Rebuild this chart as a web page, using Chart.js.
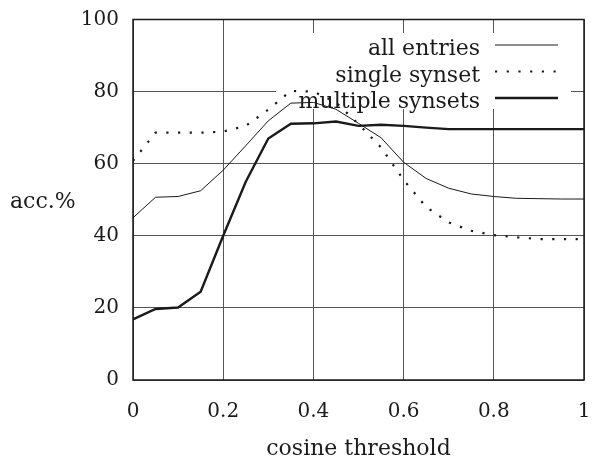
<!DOCTYPE html>
<html>
<head>
<meta charset="utf-8">
<script src="https://cdn.jsdelivr.net/npm/chart.js@4/dist/chart.umd.min.js"></script>
<style>
  body { margin: 0; background: #fff; }
  #wrap { width: 595px; height: 459px; position: relative; }
</style>
</head>
<body>
<div id="wrap"><canvas id="acc"></canvas></div>
<script>
const thresholds = [0, 0.05, 0.1, 0.15, 0.2, 0.25, 0.3, 0.35, 0.4, 0.45, 0.5,
                    0.55, 0.6, 0.65, 0.7, 0.75, 0.8, 0.85, 0.9, 0.95, 1];
const allEntries = [45, 50.7, 50.9, 52.5, 58.2, 65, 71.9, 76.8, 77, 75.1, 71.2,
                    67.2, 60.4, 55.9, 53.2, 51.6, 50.9, 50.4, 50.3, 50.2, 50.2];
const singleSynset = [60.8, 68.6, 68.6, 68.6, 68.9, 70.5, 75, 80.2, 80, 77, 71,
                      64.5, 55.5, 48, 43.7, 41.4, 40.2, 39.6, 39.1, 39.1, 39.1];
const multiSynsets = [16.8, 19.7, 20.1, 24.5, 40, 55, 67, 71.1, 71.2, 71.7, 70.5,
                      70.8, 70.5, 70, 69.6, 69.6, 69.6, 69.6, 69.6, 69.6, 69.6];
const xTickLabels = ['0', '0.2', '0.4', '0.6', '0.8', '1'];
const yTickLabels = ['0', '20', '40', '60', '80', '100'];
const seriesNames = ['all entries', 'single synset', 'multiple synsets'];

const serif = '"DejaVu Serif", serif';
const ink = '#1a1a1a';

function pts(ys) {
  return thresholds.map((x, i) => ({ x: x, y: ys[i] }));
}

function noPad(s) {
  s.paddingLeft = 0; s.paddingRight = 0; s.paddingTop = 0; s.paddingBottom = 0;
}

// gnuplot style key: opaque white box, labels right aligned, sample line at the right
const keyBox = {
  id: 'keyBox',
  beforeDatasetsDraw(chart) {
    const ctx = chart.ctx;
    ctx.save();
    ctx.fillStyle = '#fff';
    ctx.fillRect(276, 33, 295, 76);
    ctx.font = '22px ' + serif;
    ctx.fillStyle = ink;
    ctx.textAlign = 'right';
    ctx.textBaseline = 'alphabetic';
    chart.data.datasets.forEach((ds, i) => {
      const lineY = 45 + i * 26.5;
      ctx.fillText(seriesNames[i], 480, lineY + 10);
      ctx.beginPath();
      ctx.strokeStyle = ds.borderColor;
      ctx.lineWidth = ds.borderWidth;
      ctx.lineCap = 'butt';
      ctx.setLineDash(ds.borderDash || []);
      ctx.moveTo(495, lineY);
      ctx.lineTo(558, lineY);
      ctx.stroke();
    });
    ctx.restore();
  },
  afterDraw(chart) {
    const ctx = chart.ctx;
    const a = chart.chartArea;
    ctx.save();
    ctx.strokeStyle = ink;
    ctx.lineWidth = 1.5;
    ctx.strokeRect(a.left, a.top, a.right - a.left, a.bottom - a.top);
    ctx.font = '22px ' + serif;
    ctx.fillStyle = ink;
    ctx.textBaseline = 'alphabetic';
    ctx.textAlign = 'left';
    ctx.fillText('acc.%', 10, 208);
    ctx.textAlign = 'center';
    ctx.fillText('cosine threshold', (a.left + a.right) / 2, 455);
    ctx.restore();
  }
};

new Chart(document.getElementById('acc'), {
  type: 'line',
  data: {
    datasets: [
      { label: seriesNames[0], data: pts(allEntries), borderColor: ink, borderWidth: 1, pointRadius: 0, tension: 0 },
      { label: seriesNames[1], data: pts(singleSynset), borderColor: ink, borderWidth: 2.2, borderDash: [2.2, 9.5], pointRadius: 0, tension: 0 },
      { label: seriesNames[2], data: pts(multiSynsets), borderColor: ink, borderWidth: 2.4, pointRadius: 0, tension: 0 }
    ]
  },
  options: {
    responsive: true,
    maintainAspectRatio: false,
    animation: false,
    layout: { padding: { top: 19.5, right: 11, left: 0, bottom: 0 } },
    plugins: { legend: { display: false }, tooltip: { enabled: false } },
    scales: {
      x: {
        type: 'linear', min: 0, max: 1,
        afterFit: s => { s.height = 79; noPad(s); },
        grid: { color: '#555', lineWidth: 1, drawTicks: false },
        border: { display: false },
        ticks: {
          stepSize: 0.2, padding: 20, color: ink, maxRotation: 0,
          font: { family: serif, size: 20 },
          callback: (v, i) => xTickLabels[i]
        }
      },
      y: {
        min: 0, max: 100,
        afterFit: s => { s.width = 133; noPad(s); },
        grid: { color: '#555', lineWidth: 1, drawTicks: false },
        border: { display: false },
        ticks: {
          stepSize: 20, padding: 14, color: ink,
          font: { family: serif, size: 20 },
          callback: (v, i) => yTickLabels[i]
        }
      }
    }
  },
  plugins: [keyBox]
});
</script>
</body>
</html>
